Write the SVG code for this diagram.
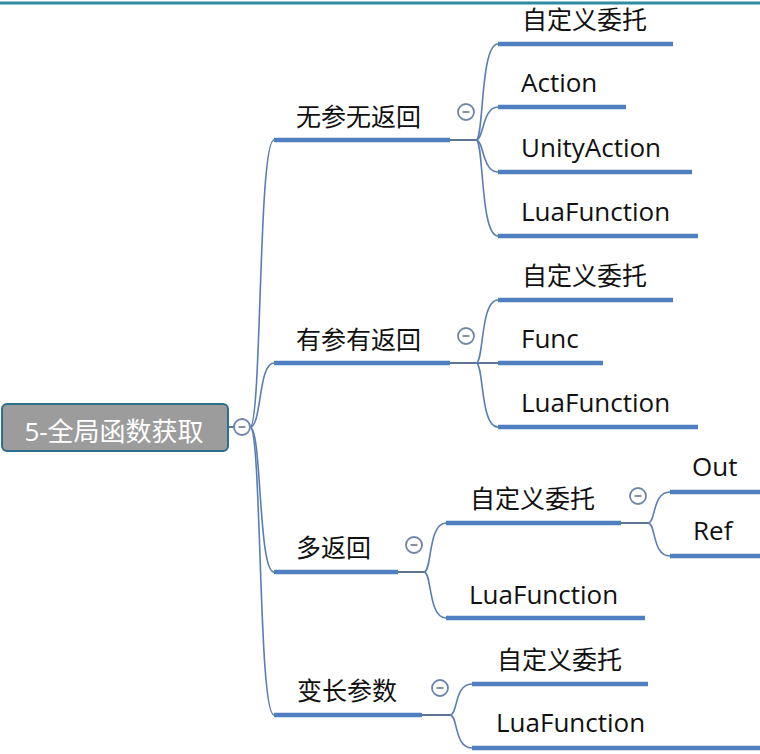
<svg xmlns="http://www.w3.org/2000/svg" width="760" height="754" viewBox="0 0 760 754">
<style>
text{font-family:"Open Sans","Noto Sans CJK SC",sans-serif;font-size:25px;fill:#111}
text.en{font-size:26px}
.root-t{fill:#fff;font-size:26px}
.ul{stroke:#4f7fc0;stroke-width:4.5;fill:none}
.cv{stroke:#5b7db1;stroke-width:1.6;fill:none}
.ln{stroke:#5d7590;stroke-width:2;fill:none}
.tg circle{fill:#fff;stroke:#6f84a8;stroke-width:1.8}
.tg line{stroke:#7d8591;stroke-width:1.8}
</style>
<defs>
<g id="tog" class="tg"><circle r="8"/><line x1="-3.5" y1="0" x2="3.5" y2="0"/></g>
</defs>
<rect x="0" y="0" width="760" height="754" fill="#fff"/>
<line x1="0" y1="3" x2="760" y2="3" stroke="#2e8ba5" stroke-width="3"/>

<g id="connectors">
<line class="ln" x1="228" y1="427" x2="250" y2="427"/>
<path class="cv" d="M250 427 C262 427 258 140 274 140"/>
<path class="cv" d="M250 427 C262 427 258 363 274 363"/>
<path class="cv" d="M250 427 C262 427 258 572 274 572"/>
<path class="cv" d="M250 427 C262 427 258 715 274 715"/>
<line class="ln" x1="450" y1="140" x2="476" y2="140"/>
<path class="cv" d="M476 140 C484 140 480 44 498 44"/>
<path class="cv" d="M476 140 C484 140 482 107 498 107"/>
<path class="cv" d="M476 140 C484 140 482 172 498 172"/>
<path class="cv" d="M476 140 C484 140 480 236 498 236"/>
<line class="ln" x1="450" y1="363" x2="498" y2="363"/>
<path class="cv" d="M476 363 C484 363 480 300 498 300"/>
<path class="cv" d="M476 363 C484 363 480 427 498 427"/>
<line class="ln" x1="398" y1="572" x2="424" y2="572"/>
<path class="cv" d="M424 572 C432 572 428 523 446 523"/>
<path class="cv" d="M424 572 C432 572 428 618 446 618"/>
<line class="ln" x1="621" y1="523" x2="648" y2="523"/>
<path class="cv" d="M648 523 C656 523 652 492 670 492"/>
<path class="cv" d="M648 523 C656 523 652 556 670 556"/>
<line class="ln" x1="422" y1="715" x2="450" y2="715"/>
<path class="cv" d="M450 715 C458 715 454 684 472 684"/>
<path class="cv" d="M450 715 C458 715 454 748 472 748"/>
</g>

<g id="root">
<rect x="2" y="404" width="226" height="47" rx="5" fill="#9c9c9c" stroke="#2d6e8c" stroke-width="2"/>
<text class="root-t" x="114" y="441" text-anchor="middle">5-全局函数获取</text>
<use href="#tog" x="242" y="427"/>
</g>

<g id="n-wucan">
<text x="296" y="126">无参无返回</text>
<line class="ul" x1="274" y1="140" x2="450" y2="140"/>
<use href="#tog" x="466" y="112"/>
</g>
<g id="n-wucan-1"><text x="522" y="29">自定义委托</text><line class="ul" x1="498" y1="44" x2="673" y2="44"/></g>
<g id="n-wucan-2"><text class="en" x="521" y="92">Action</text><line class="ul" x1="498" y1="107" x2="626" y2="107"/></g>
<g id="n-wucan-3"><text class="en" x="521" y="157">UnityAction</text><line class="ul" x1="498" y1="172" x2="692" y2="172"/></g>
<g id="n-wucan-4"><text class="en" x="521" y="221">LuaFunction</text><line class="ul" x1="498" y1="236" x2="698" y2="236"/></g>

<g id="n-youcan">
<text x="296" y="349">有参有返回</text>
<line class="ul" x1="274" y1="363" x2="450" y2="363"/>
<use href="#tog" x="466" y="336"/>
</g>
<g id="n-youcan-1"><text x="522" y="285">自定义委托</text><line class="ul" x1="498" y1="300" x2="673" y2="300"/></g>
<g id="n-youcan-2"><text class="en" x="521" y="348">Func</text><line class="ul" x1="498" y1="363" x2="603" y2="363"/></g>
<g id="n-youcan-3"><text class="en" x="521" y="412">LuaFunction</text><line class="ul" x1="498" y1="427" x2="698" y2="427"/></g>

<g id="n-duo">
<text x="296" y="557">多返回</text>
<line class="ul" x1="274" y1="572" x2="398" y2="572"/>
<use href="#tog" x="414" y="545"/>
</g>
<g id="n-duo-1">
<text x="470" y="508">自定义委托</text>
<line class="ul" x1="446" y1="523" x2="621" y2="523"/>
<use href="#tog" x="638" y="496"/>
</g>
<g id="n-duo-1-1"><text class="en" x="692" y="476">Out</text><line class="ul" x1="670" y1="492" x2="760" y2="492"/></g>
<g id="n-duo-1-2"><text class="en" x="693" y="540">Ref</text><line class="ul" x1="670" y1="556" x2="760" y2="556"/></g>
<g id="n-duo-2"><text class="en" x="469" y="604">LuaFunction</text><line class="ul" x1="446" y1="618" x2="645" y2="618"/></g>

<g id="n-bian">
<text x="297" y="700">变长参数</text>
<line class="ul" x1="274" y1="715" x2="422" y2="715"/>
<use href="#tog" x="440" y="688"/>
</g>
<g id="n-bian-1"><text x="497" y="669">自定义委托</text><line class="ul" x1="472" y1="684" x2="648" y2="684"/></g>
<g id="n-bian-2"><text class="en" x="496" y="732">LuaFunction</text><line class="ul" x1="472" y1="748" x2="760" y2="748"/></g>
</svg>
